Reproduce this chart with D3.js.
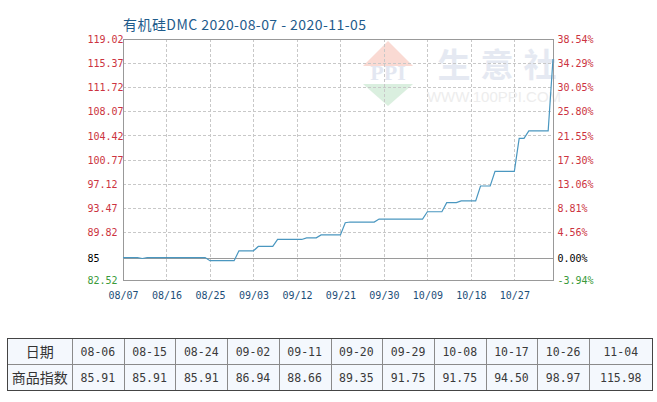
<!DOCTYPE html>
<html><head><meta charset="utf-8">
<script src="https://cdn.jsdelivr.net/npm/d3@7"></script>
<style>
html,body{margin:0;padding:0;background:#fff;}
svg{display:block;}
</style></head>
<body>
<svg id="chart" width="657" height="402"></svg>
<script>
// ---------- data ----------
const title = "有机硅DMC 2020-08-07 - 2020-11-05";
const dates = ["2020-08-07","2020-08-08","2020-08-09","2020-08-10","2020-08-11","2020-08-12","2020-08-13","2020-08-14","2020-08-15","2020-08-16",
"2020-08-17","2020-08-18","2020-08-19","2020-08-20","2020-08-21","2020-08-22","2020-08-23","2020-08-24","2020-08-25","2020-08-26",
"2020-08-27","2020-08-28","2020-08-29","2020-08-30","2020-08-31","2020-09-01","2020-09-02","2020-09-03","2020-09-04","2020-09-05",
"2020-09-06","2020-09-07","2020-09-08","2020-09-09","2020-09-10","2020-09-11","2020-09-12","2020-09-13","2020-09-14","2020-09-15",
"2020-09-16","2020-09-17","2020-09-18","2020-09-19","2020-09-20","2020-09-21","2020-09-22","2020-09-23","2020-09-24","2020-09-25",
"2020-09-26","2020-09-27","2020-09-28","2020-09-29","2020-09-30","2020-10-01","2020-10-02","2020-10-03","2020-10-04","2020-10-05",
"2020-10-06","2020-10-07","2020-10-08","2020-10-09","2020-10-10","2020-10-11","2020-10-12","2020-10-13","2020-10-14","2020-10-15",
"2020-10-16","2020-10-17","2020-10-18","2020-10-19","2020-10-20","2020-10-21","2020-10-22","2020-10-23","2020-10-24","2020-10-25",
"2020-10-26","2020-10-27","2020-10-28","2020-10-29","2020-10-30","2020-10-31","2020-11-01","2020-11-02","2020-11-03","2020-11-04"];
const values = [85.91,85.91,85.91,85.91,85.78,85.91,85.91,85.91,85.91,85.91,
85.91,85.91,85.91,85.91,85.91,85.91,85.91,85.91,85.45,85.45,
85.45,85.45,85.45,85.45,86.94,86.94,86.94,86.94,87.60,87.60,
87.60,87.60,88.66,88.66,88.66,88.66,88.66,88.66,88.90,88.90,
88.90,89.35,89.35,89.35,89.35,89.35,91.20,91.30,91.30,91.30,
91.30,91.30,91.30,91.75,91.75,91.75,91.75,91.75,91.75,91.75,
91.75,91.75,91.75,92.86,92.86,92.86,92.86,94.23,94.23,94.23,
94.50,94.50,94.50,94.50,96.76,96.76,96.76,98.97,98.97,98.97,
98.97,98.97,103.96,103.96,105.10,105.10,105.10,105.10,105.10,115.98];
const xTickDates = ["2020-08-07","2020-08-16","2020-08-25","2020-09-03","2020-09-12","2020-09-21","2020-09-30","2020-10-09","2020-10-18","2020-10-27"];
const yTickValues = [119.02,115.37,111.72,108.07,104.42,100.77,97.12,93.47,89.82,85.91,82.52];
const yTickLabels = ["119.02","115.37","111.72","108.07","104.42","100.77","97.12","93.47","89.82","85","82.52"];
const pctTickLabels = ["38.54%","34.29%","30.05%","25.80%","21.55%","17.30%","13.06%","8.81%","4.56%","0.00%","-3.94%"];
const baseValue = 85.91;
const tableDates = ["08-06","08-15","08-24","09-02","09-11","09-20","09-29","10-08","10-17","10-26","11-04"];
const tableValues = ["85.91","85.91","85.91","86.94","88.66","89.35","91.75","91.75","94.50","98.97","115.98"];
const tableHeads = ["日期","商品指数"];

// ---------- layout ----------
const L = 123, R = 553, T = 39, B = 280;
const parse = d3.timeParse("%Y-%m-%d");
const svg = d3.select("#chart");
const mono = "'DejaVu Sans Mono', 'Liberation Mono', monospace";
const cjk = "'Noto Sans CJK SC', 'Noto Sans', sans-serif";

const x = d3.scaleTime().domain([parse(dates[0]), parse(dates[dates.length-1])]).range([L, R]);
const y = d3.scaleLinear().domain([82.52, 119.02]).range([B, T]);

// watermark
const wm = svg.append("g").attr("opacity", 0.5);
wm.append("polygon").attr("points", "388,41 413,66 363,66").attr("fill", "#f6b7a9");
wm.append("polygon").attr("points", "363,84 413,84 388,106").attr("fill", "#b7e0c0");
wm.append("text").attr("x", 388).attr("y", 80).attr("text-anchor", "middle")
  .attr("font-family", "'Liberation Serif', serif").attr("font-weight", "bold").attr("font-size", 22)
  .attr("fill", "#c9d0e4").text("PPI");
const wmChars = ["生","意","社"];
wm.selectAll("text.wc").data(wmChars).enter().append("text").attr("class","wc")
  .attr("x", (d,i) => 454 + i*43).attr("y", 77).attr("text-anchor","middle")
  .attr("font-family", cjk).attr("font-weight","bold").attr("font-size", 33).attr("fill", "#cdd5e6").text(d => d);
wm.append("text").attr("x", 494).attr("y", 102).attr("text-anchor","middle")
  .attr("font-family", "'Liberation Sans', sans-serif").attr("font-size", 15).attr("fill", "#dcdcdc").text("WWW.100PPI.COM");

// grid
const grid = svg.append("g");
grid.selectAll("line.hg").data(yTickValues.filter(v => v !== baseValue && v !== 82.52 && v !== 119.02)).enter()
  .append("line").attr("x1", L).attr("x2", R).attr("y1", d => Math.round(y(d))+0.5).attr("y2", d => Math.round(y(d))+0.5)
  .attr("stroke", "#c8c8c8").attr("stroke-dasharray", "3,2");
grid.selectAll("line.vg").data(xTickDates.slice(1)).enter()
  .append("line").attr("y1", T).attr("y2", B).attr("x1", d => Math.round(x(parse(d)))+0.5).attr("x2", d => Math.round(x(parse(d)))+0.5)
  .attr("stroke", "#c8c8c8").attr("stroke-dasharray", "3,2");
// base line
svg.append("line").attr("x1", L).attr("x2", R).attr("y1", Math.round(y(baseValue))+0.5).attr("y2", Math.round(y(baseValue))+0.5)
  .attr("stroke", "#9a9a9a");
// frame
svg.append("rect").attr("x", L+0.5).attr("y", T+0.5).attr("width", R-L).attr("height", B-T)
  .attr("fill", "none").attr("stroke", "#999");

// line
const pts = dates.map((d,i) => ({d: parse(d), v: values[i]}));
svg.append("path").datum(pts).attr("fill","none").attr("stroke","#4a97c0").attr("stroke-width",1.2)
  .attr("d", d3.line().x(p => x(p.d)).y(p => y(p.v)));

// left axis labels
const colorFor = (v) => v > baseValue ? "#cc3340" : (v === baseValue ? "#000" : "#3a9a3a");
const la = svg.append("g").attr("transform", `translate(${L},0)`)
  .call(d3.axisLeft(y).tickValues(yTickValues).tickFormat((d,i) => yTickLabels[i]).tickSize(0).tickPadding(0));
la.select(".domain").remove();
la.selectAll("text").attr("text-anchor","start").attr("x", 87.5 - L).attr("dy","0.36em")
  .attr("font-family", mono).attr("font-size", 10).attr("fill", d => colorFor(d));
// right axis labels
const ra = svg.append("g").attr("transform", `translate(${R},0)`)
  .call(d3.axisRight(y).tickValues(yTickValues).tickFormat((d,i) => pctTickLabels[i]).tickSize(0).tickPadding(4.5));
ra.select(".domain").remove();
ra.selectAll("text").attr("dy","0.36em")
  .attr("font-family", mono).attr("font-size", 10).attr("fill", d => colorFor(d));
// x axis labels
const xa = svg.append("g").attr("transform", `translate(0,${B})`)
  .call(d3.axisBottom(x).tickValues(xTickDates.map(parse)).tickFormat(d3.timeFormat("%m/%d")).tickSize(0).tickPadding(12));
xa.select(".domain").remove();
xa.selectAll("text").attr("font-family", mono).attr("font-size", 10).attr("fill", "#1d4e78");

// title
svg.append("text").attr("x", L).attr("y", 30).attr("font-family", cjk).attr("font-size", 14)
  .attr("letter-spacing", 0.45).attr("fill", "#1f5c8c").text(title);

// table
const tX0 = 7.5, tTop = 338.5, rowH = 26;
const colW = [64.5].concat(tableDates.map((d,i) => i === tableDates.length-1 ? 63.5 : 51.7));
const colX = [tX0];
colW.forEach((w,i) => colX.push(colX[i] + w));
const tW = colX[colX.length-1] - tX0;
const tbl = svg.append("g");
tbl.append("rect").attr("x", tX0).attr("y", tTop).attr("width", tW).attr("height", rowH*2).attr("fill", "#f4f8fd");
colX.slice(1, -1).forEach(cx => tbl.append("line").attr("x1", Math.round(cx)+0.5).attr("x2", Math.round(cx)+0.5)
  .attr("y1", tTop).attr("y2", tTop + rowH*2).attr("stroke", "#8a8a8a"));
tbl.append("line").attr("x1", tX0).attr("x2", tX0+tW).attr("y1", tTop+rowH).attr("y2", tTop+rowH).attr("stroke", "#8a8a8a");
tbl.append("rect").attr("x", tX0).attr("y", tTop).attr("width", tW).attr("height", rowH*2)
  .attr("fill", "none").attr("stroke", "#444");
const rows = [tableDates, tableValues];
rows.forEach((row, r) => {
  tbl.append("text").attr("x", (colX[0]+colX[1])/2).attr("y", tTop + rowH*r + rowH/2).attr("dy","0.36em")
    .attr("text-anchor","middle").attr("font-family", cjk).attr("font-size", 14).attr("fill","#333").text(tableHeads[r]);
  tbl.selectAll(null).data(row).enter().append("text")
    .attr("x", (d,i) => (colX[i+1]+colX[i+2])/2).attr("y", tTop + rowH*r + rowH/2).attr("dy","0.36em")
    .attr("text-anchor","middle").attr("font-family", mono).attr("font-size", 11.5).attr("fill","#3a3a3a").text(d => d);
});
</script>
</body></html>
